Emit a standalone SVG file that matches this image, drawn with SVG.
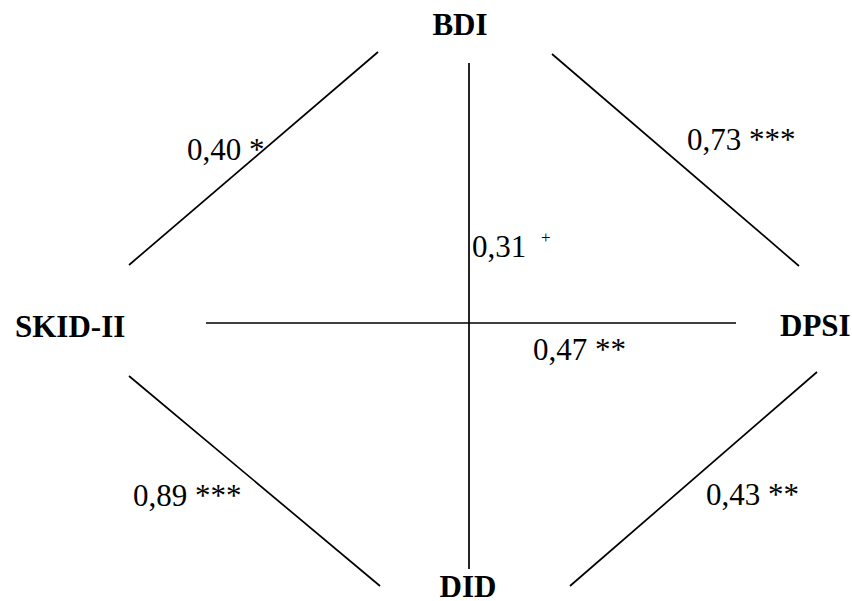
<svg xmlns="http://www.w3.org/2000/svg" width="852" height="601" viewBox="0 0 852 601">
<style>
.node{font-family:"Liberation Serif","Times New Roman",serif;font-weight:bold;font-size:31px;fill:#000}
.lbl{font-family:"Liberation Serif","Times New Roman",serif;font-size:31px;fill:#000}
.sup{font-family:"Liberation Serif","Times New Roman",serif;font-size:17px;fill:#000}
.edge{stroke:#000;stroke-width:1.7;fill:none}
</style>
<rect width="852" height="601" fill="#fff"/>
<g id="connectors">
<line class="edge" x1="378" y1="52" x2="129" y2="265"/>
<line class="edge" x1="552" y1="54" x2="799" y2="266"/>
<line class="edge" x1="469" y1="63" x2="469" y2="569"/>
<line class="edge" x1="206" y1="323" x2="736" y2="323"/>
<line class="edge" x1="129" y1="376" x2="380" y2="586"/>
<line class="edge" x1="817" y1="372" x2="570" y2="586"/>
<text class="lbl" x="187" y="160">0,40 *</text>
<text class="lbl" x="687" y="150">0,73 ***</text>
<text class="lbl" x="472" y="257">0,31</text>
<text class="sup" x="541" y="243">+</text>
<text class="lbl" x="533" y="360">0,47 **</text>
<text class="lbl" x="133" y="506">0,89 ***</text>
<text class="lbl" x="706" y="505">0,43 **</text>
</g>
<g id="BDI"><text class="node" x="460" y="35" text-anchor="middle">BDI</text></g>
<g id="SKID-II"><text class="node" x="15" y="337">SKID-II</text></g>
<g id="DPSI"><text class="node" x="780" y="336">DPSI</text></g>
<g id="DID"><text class="node" x="468" y="597" text-anchor="middle">DID</text></g>
</svg>
